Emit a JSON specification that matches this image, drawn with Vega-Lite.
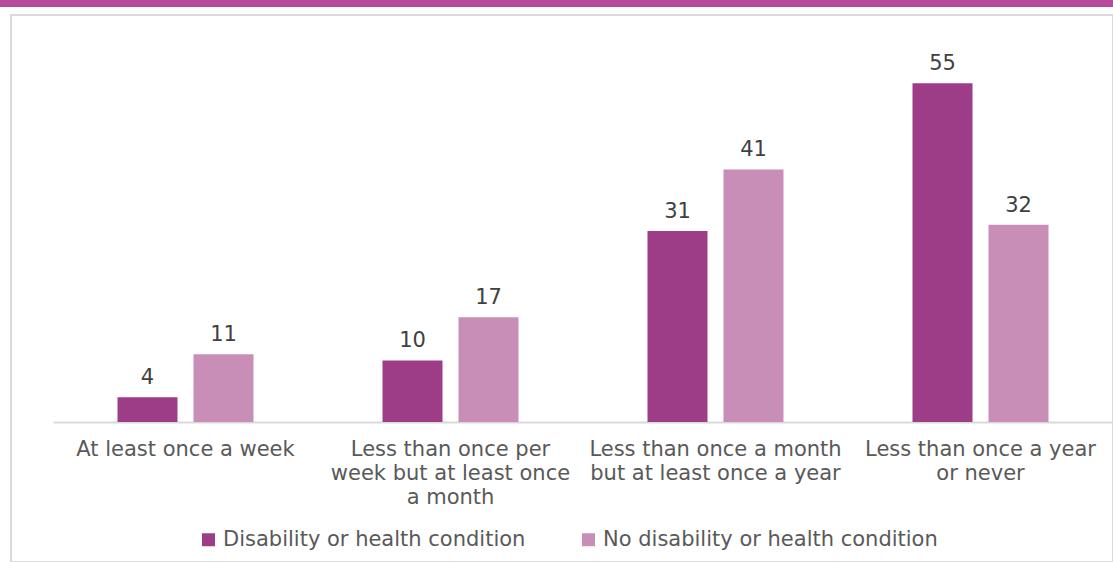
{
  "$schema": "https://vega.github.io/schema/vega-lite/v6.json",
  "padding": 0,
  "background": "white",
  "config": {"font": "DejaVu Sans"},
  "datasets": {
    "d": [
      {"cat": "At least once a week", "grp": "Disability or health condition", "value": 4},
      {"cat": "At least once a week", "grp": "No disability or health condition", "value": 11},
      {"cat": "Less than once per week but at least once a month", "grp": "Disability or health condition", "value": 10},
      {"cat": "Less than once per week but at least once a month", "grp": "No disability or health condition", "value": 17},
      {"cat": "Less than once a month but at least once a year", "grp": "Disability or health condition", "value": 31},
      {"cat": "Less than once a month but at least once a year", "grp": "No disability or health condition", "value": 41},
      {"cat": "Less than once a year or never", "grp": "Disability or health condition", "value": 55},
      {"cat": "Less than once a year or never", "grp": "No disability or health condition", "value": 32}
    ],
    "empty": []
  },
  "spacing": 7,
  "vconcat": [
    {
      "width": 1113,
      "height": 7,
      "view": {"fill": "#B44A9A", "stroke": null},
      "data": {"name": "empty"},
      "mark": "point"
    },
    {
      "spacing": 0,
      "hconcat": [
        {
          "width": 10,
          "height": 547,
          "view": {"stroke": null},
          "data": {"name": "empty"},
          "mark": "point"
        },
        {
          "width": 1102,
          "height": 547,
          "view": {"stroke": "#DADADA", "strokeWidth": 2},
          "data": {"name": "d"},
          "encoding": {
            "x": {
              "field": "cat",
              "type": "nominal",
              "sort": ["At least once a week", "Less than once per week but at least once a month", "Less than once a month but at least once a year", "Less than once a year or never"],
              "scale": {"range": [42, 1102], "paddingInner": 0, "paddingOuter": 0},
              "axis": {
                "title": null,
                "offset": -140,
                "labelAngle": 0,
                "ticks": false,
                "domainColor": "#D9D9D9",
                "domainWidth": 2,
                "labelPadding": 16,
                "labelFontSize": 21,
                "labelColor": "#595959",
                "labelLineHeight": 24,
                "labelLimit": 400,
                "labelBaseline": "top",
                "labelExpr": "datum.label == 'Less than once per week but at least once a month' ? ['Less than once per', 'week but at least once', 'a month'] : datum.label == 'Less than once a month but at least once a year' ? ['Less than once a month', 'but at least once a year'] : datum.label == 'Less than once a year or never' ? ['Less than once a year', 'or never'] : datum.label"
              }
            },
            "xOffset": {
              "field": "grp",
              "type": "nominal",
              "sort": ["Disability or health condition", "No disability or health condition"],
              "scale": {"paddingInner": 0.2105, "paddingOuter": 0.8487}
            },
            "y": {
              "field": "value",
              "type": "quantitative",
              "scale": {"domain": [-22.73, 66.07], "nice": false, "zero": false},
              "axis": null
            }
          },
          "layer": [
            {
              "mark": {"type": "bar"},
              "encoding": {
                "y2": {"datum": 0},
                "color": {
                  "field": "grp",
                  "type": "nominal",
                  "scale": {"domain": ["Disability or health condition", "No disability or health condition"], "range": ["#9E3D87", "#C98EB8"]},
                  "legend": {
                    "orient": "none",
                    "legendX": 198,
                    "legendY": 529,
                    "direction": "horizontal",
                    "title": null,
                    "symbolType": "square",
                    "symbolSize": 169,
                    "symbolStrokeWidth": 0,
                    "symbolOpacity": 1,
                    "labelFontSize": 21,
                    "labelColor": "#595959",
                    "labelOffset": 4,
                    "columnPadding": 52,
                    "padding": 0,
                    "labelLimit": 500
                  }
                }
              }
            },
            {
              "mark": {"type": "text", "baseline": "alphabetic", "dy": -13, "fontSize": 21, "color": "#404040"},
              "encoding": {"text": {"field": "value", "type": "quantitative"}}
            }
          ]
        }
      ]
    }
  ]
}
